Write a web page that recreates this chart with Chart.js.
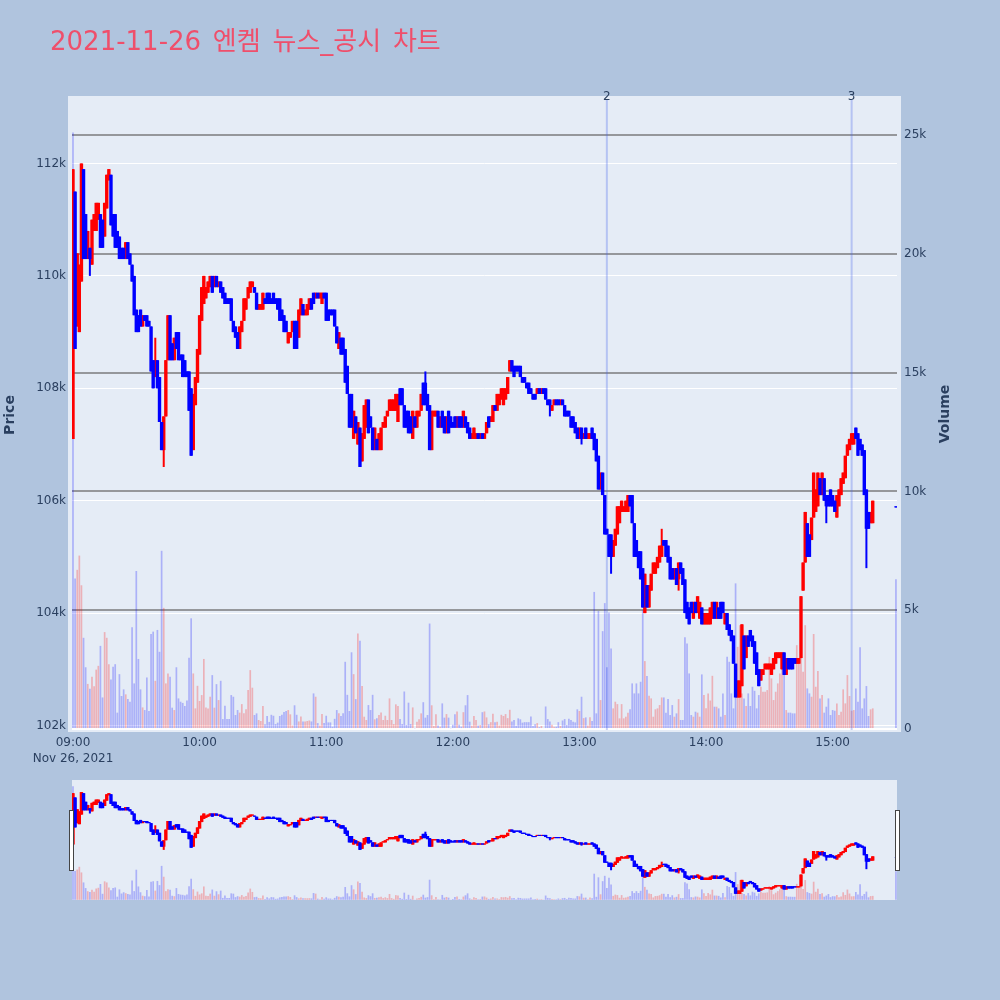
<!DOCTYPE html>
<html lang="ko">
<head>
<meta charset="utf-8">
<title>2021-11-26 엔켐 뉴스_공시 차트</title>
<script src="https://cdn.jsdelivr.net/npm/chart.js@4"></script>
<style>
html,body{margin:0;padding:0;background:#B0C4DE;width:1000px;height:1000px;overflow:hidden}
canvas{position:absolute;left:0;top:0}
</style>
</head>
<body>
<canvas id="main" width="1000" height="1000"></canvas>
<canvas id="slider" width="1000" height="1000"></canvas>
<script>
const chartTitle = '2021-11-26 엔켐 뉴스_공시 차트';
const dateLabel = 'Nov 26, 2021';
const startHour = 9;
// Prices are in units of 100 won. Index = minutes after 09:00.
const opens = [
1071,1115,1091,1090,1099,1119,1111,1103,1105,1102,
1108,1108,1110,1111,1110,1107,1112,1117,1118,1111,
1111,1108,1107,1105,1105,1103,1106,1104,1102,1100,
1094,1093,1094,1091,1093,1093,1092,1091,1085,1082,
1085,1082,1074,1069,1075,1085,1093,1088,1085,1090,
1090,1086,1086,1085,1083,1083,1080,1069,1077,1081,
1086,1092,1095,1096,1097,1098,1100,1098,1100,1098,
1099,1098,1097,1096,1096,1096,1092,1091,1090,1087,
1090,1092,1094,1096,1097,1098,1098,1097,1094,1094,
1094,1096,1097,1097,1096,1097,1096,1096,1096,1094,
1093,1092,1088,1089,1090,1092,1092,1089,1093,1095,
1093,1093,1094,1096,1097,1096,1097,1096,1095,1097,
1097,1094,1094,1094,1094,1091,1087,1089,1089,1087,
1084,1079,1079,1071,1075,1070,1073,1067,1071,1073,
1078,1075,1073,1069,1071,1069,1069,1073,1073,1075,
1076,1076,1076,1076,1074,1080,1080,1077,1076,1076,
1075,1071,1075,1073,1075,1076,1081,1081,1079,1077,
1069,1075,1075,1076,1073,1076,1075,1072,1076,1075,
1074,1075,1073,1075,1075,1073,1075,1074,1073,1071,
1071,1071,1072,1071,1072,1071,1072,1075,1074,1074,
1077,1076,1077,1078,1077,1078,1079,1083,1085,1084,
1084,1084,1084,1082,1082,1081,1081,1080,1079,1079,
1079,1080,1079,1080,1080,1078,1078,1076,1077,1078,
1078,1077,1078,1077,1076,1076,1075,1075,1074,1073,
1071,1073,1071,1073,1071,1071,1073,1072,1071,1068,
1062,1065,1061,1055,1054,1054,1050,1052,1054,1056,
1058,1058,1058,1058,1061,1061,1056,1053,1051,1051,
1048,1040,1045,1041,1044,1047,1047,1048,1049,1050,
1053,1053,1052,1050,1048,1046,1048,1046,1049,1048,
1046,1042,1041,1042,1039,1042,1040,1039,1041,1038,
1038,1038,1038,1039,1042,1039,1041,1042,1042,1038,
1040,1038,1037,1036,1031,1025,1025,1027,1036,1032,
1036,1037,1036,1035,1033,1030,1028,1029,1030,1030,
1030,1029,1030,1031,1032,1032,1030,1033,1029,1032,
1032,1032,1032,1031,1031,1032,1044,1049,1056,1054,
1053,1057,1058,1059,1064,1061,1064,1061,1061,1062,
1061,1060,1057,1059,1061,1063,1064,1068,1069,1070,
1070,1073,1072,1071,1070,1069,1062,1058,1056,1056,
null,null,null,null,null,null,null,null,null,null,1059];
const closes = [
1119,1087,1104,1102,1120,1103,1103,1108,1103,1110,
1111,1113,1113,1105,1105,1113,1118,1119,1109,1107,
1105,1105,1103,1103,1103,1106,1103,1102,1099,1093,
1090,1090,1091,1093,1092,1091,1091,1083,1080,1085,
1080,1074,1069,1075,1085,1093,1085,1085,1089,1087,
1085,1085,1082,1082,1082,1076,1068,1079,1082,1087,
1093,1098,1100,1098,1099,1100,1097,1100,1098,1099,
1097,1096,1095,1095,1095,1092,1090,1089,1087,1091,
1092,1096,1096,1098,1099,1099,1097,1094,1095,1095,
1097,1095,1095,1095,1095,1095,1095,1094,1092,1092,
1090,1090,1090,1090,1092,1087,1087,1094,1096,1093,
1094,1095,1096,1094,1095,1097,1096,1097,1097,1096,
1092,1092,1093,1093,1091,1088,1090,1086,1086,1081,
1079,1073,1073,1076,1072,1074,1066,1072,1077,1078,
1072,1073,1069,1073,1069,1072,1073,1074,1075,1076,
1078,1078,1078,1079,1079,1077,1077,1073,1073,1072,
1072,1076,1073,1076,1076,1079,1077,1077,1076,1069,
1076,1076,1076,1073,1075,1073,1072,1075,1072,1073,
1073,1073,1075,1073,1073,1076,1073,1072,1071,1072,
1073,1072,1071,1072,1071,1072,1074,1073,1075,1077,
1076,1079,1079,1080,1080,1080,1082,1085,1083,1082,
1083,1083,1082,1081,1081,1080,1079,1079,1078,1078,
1080,1079,1080,1079,1078,1077,1077,1077,1078,1077,
1077,1078,1077,1075,1075,1075,1073,1073,1072,1071,
1073,1071,1072,1071,1072,1072,1071,1069,1067,1062,
1065,1061,1054,1054,1050,1050,1053,1055,1059,1059,
1060,1059,1060,1061,1059,1056,1050,1050,1048,1046,
1041,1047,1041,1045,1047,1049,1049,1050,1052,1052,
1052,1050,1049,1046,1046,1048,1045,1049,1047,1045,
1040,1039,1038,1040,1042,1040,1043,1042,1038,1040,
1040,1040,1041,1042,1039,1042,1039,1039,1040,1040,
1037,1036,1035,1031,1025,1028,1028,1038,1030,1036,
1034,1035,1034,1031,1029,1027,1030,1030,1031,1031,
1031,1031,1032,1033,1033,1033,1033,1029,1032,1030,
1030,1030,1031,1032,1032,1043,1049,1058,1050,1050,
1057,1065,1062,1065,1061,1065,1060,1059,1059,1059,
1059,1058,1061,1062,1064,1065,1068,1070,1071,1072,
1072,1071,1068,1069,1068,1061,1055,1055,1058,1060,
null,null,null,null,null,null,null,null,null,null,1058.8];
// Wick tips that stick out beyond the candle body: minute -> price.
const wickHighs = {39:1089,167:1083,279:1055};
const wickLows = {8:1100,43:1066,226:1075,241:1070,255:1047,287:1044,357:1056,376:1048};
// Volume in thousands of shares.
const volumes = [
25.1,6.34,6.7,7.3,6.05,3.84,2.6,1.9,1.7,2.2,
1.8,2.5,2.66,3.5,1.33,4.08,3.84,2.73,2.09,2.62,
2.73,.69,2.31,1.39,1.67,1.46,1.26,1.15,4.28,1.92,
6.65,2.95,1.67,.91,.8,2.17,.76,4.0,4.1,2.03,
4.17,3.25,7.5,5.1,1.92,2.34,2.2,.9,.8,2.6,
1.29,1.15,1.1,.97,1.2,3.0,4.66,2.34,.87,1.82,
1.18,1.43,2.95,.91,.86,1.36,2.27,.9,1.89,1.22,
2.03,.42,.98,.42,.42,1.43,1.36,.59,.8,.69,
1.05,.66,.83,1.64,2.48,1.74,.59,.66,.38,.34,
.97,.2,.55,.3,.6,.56,.21,.27,.55,.6,
.72,.76,.8,.62,.15,1.0,.6,.32,.53,.32,
.32,.34,.36,.32,1.5,1.36,.25,.15,.63,.25,
.56,.28,.28,.1,.43,.8,.66,.55,.66,2.83,
1.44,.76,3.23,2.31,1.26,4.02,3.72,1.81,.52,.38,
1.01,.8,1.44,.41,.45,.59,.7,.38,.56,.38,
1.29,.38,.21,1.04,.97,.42,.21,1.58,.17,1.11,
.21,.91,.03,.31,.41,.66,1.13,.48,.59,4.44,
1.0,.13,.62,.15,.1,1.08,.48,.63,.48,.03,
.18,.62,.74,.18,.1,.71,1.0,1.43,.31,.14,
.55,.38,.15,.17,.71,.74,.49,.2,.29,.64,
.29,.31,.15,.6,.55,.63,.46,.81,.32,.38,
.14,.45,.41,.27,.29,.29,.29,.53,.13,.2,
.25,.08,.13,.04,.95,.42,.32,.18,.1,.1,
.29,.13,.36,.42,.17,.43,.38,.31,.28,.83,
.76,1.36,.46,.49,.15,.5,.34,5.77,.66,4.97,
1.22,4.12,5.3,2.6,4.9,3.39,.87,1.15,1.05,.45,
1.05,.45,.52,.69,.83,1.92,1.5,1.92,1.5,1.99,
5.0,2.86,2.23,1.4,1.29,.52,.83,.87,1.01,1.33,
1.33,.69,1.26,.59,1.01,.52,.66,1.26,.38,.38,
3.86,3.6,2.34,.59,.52,.73,.69,.52,2.3,1.43,
.87,1.5,1.2,2.24,.94,.94,.87,.52,1.5,.59,
3.04,2.83,1.5,.87,6.13,3.46,4.37,1.5,1.29,.97,
1.5,.97,1.78,1.61,.87,1.43,1.78,1.57,1.57,1.64,
3.04,2.13,1.22,1.57,1.92,2.34,2.83,2.27,.8,.69,
.69,.66,.66,3.53,2.97,3.53,2.41,4.37,1.71,1.5,
1.36,4.0,1.78,2.44,1.29,1.43,.69,.94,1.29,.59,
.8,.77,1.08,.59,.73,1.67,1.08,2.27,1.39,.77,
.8,1.71,1.15,3.44,.87,1.29,1.81,.55,.83,.87,
null,null,null,null,null,null,null,null,null,null,6.3];
// Volume bars whose colour differs from their candle's direction.
const blueVolumeMinutes = [0];
const eventMinutes = [253, 369];
const eventLabels = ['2', '3'];
const priceRange = [1019.2, 1131.3];
const volumeRange = [-0.04, 26.47];
const minuteRange = [-0.47, 390.5];

const RED = '#FF0000', BLUE = '#0000FF';
const VRED = 'rgba(255,0,0,0.25)', VBLUE = 'rgba(0,0,255,0.25)';
const INK = '#2a3f5f';
const FONT = '"DejaVu Sans","Noto Sans CJK KR",sans-serif';

const rows = opens.map((o, i) => ({i, o, c: closes[i], v: volumes[i]})).filter(r => r.o !== null);
const isUp = r => r.c >= r.o;
const high = r => wickHighs[r.i] ?? Math.max(r.o, r.c);
const low = r => wickLows[r.i] ?? Math.min(r.o, r.c);
const common = {type: 'bar', grouped: false, inflateAmount: 0, borderWidth: 0};

function markDatasets(withEvents, yP, yV) {
  const sets = [{
    ...common, order: 9, yAxisID: yV,
    barThickness: 1.7,
    backgroundColor: rows.map(r => isUp(r) && !blueVolumeMinutes.includes(r.i) ? VRED : VBLUE),
    data: rows.map(r => ({x: r.i, y: [0, r.v]}))
  }];
  if (withEvents) sets.push({
    ...common, order: 8, yAxisID: yV, barThickness: 2,
    backgroundColor: 'rgba(70,100,235,0.3)',
    data: eventMinutes.map(m => ({x: m, y: volumeRange}))
  });
  [[true, RED, 4], [false, BLUE, 2]].forEach(([up, color, ord]) => {
    const part = rows.filter(r => isUp(r) === up);
    sets.push({...common, order: ord + 1, yAxisID: yP, barThickness: 2,
      backgroundColor: color, data: part.map(r => ({x: r.i, y: [low(r), high(r)]}))});
    sets.push({...common, order: ord, yAxisID: yP, barThickness: 3.4,
      backgroundColor: color, data: part.map(r => ({x: r.i, y: [Math.min(r.o, r.c), Math.max(r.o, r.c)]}))});
  });
  return sets;
}

function timeLabel(m) {
  const h = startHour + Math.floor(m / 60);
  const mm = m % 60;
  return (h < 10 ? '0' : '') + h + ':' + (mm < 10 ? '0' : '') + mm;
}

const panel = (pad) => ({
  id: 'panel',
  beforeDraw(chart) {
    const {ctx, chartArea: a} = chart;
    ctx.save();
    ctx.fillStyle = '#E5ECF6';
    ctx.fillRect(a.left - pad[0], a.top - pad[1], a.right - a.left + 2 * pad[0], a.bottom - a.top + pad[1] + pad[2]);
    ctx.restore();
  }
});

new Chart(document.getElementById('main'), {
  data: {datasets: markDatasets(true, 'price', 'volume')},
  options: {
    responsive: false, animation: false, events: [],
    plugins: {
      legend: {display: false}, tooltip: {enabled: false},
      title: {display: true, text: chartTitle, align: 'start', color: '#EF4F6B',
        font: {family: FONT, size: 26, weight: 'normal', lineHeight: 1.2},
        padding: {top: 24.4, bottom: 44.4}}
    },
    scales: {
      x: {type: 'linear', offset: false, min: minuteRange[0], max: minuteRange[1],
        grid: {display: false, drawTicks: false}, border: {display: false},
        afterFit(s) { s.height = 270; },
        ticks: {stepSize: 60, includeBounds: false, autoSkip: false, maxRotation: 0, padding: 5, color: INK,
          font: {family: FONT, size: 12, lineHeight: 1.33},
          callback: v => v === 0 ? [timeLabel(v), dateLabel] : timeLabel(v)}},
      price: {type: 'linear', position: 'left', min: priceRange[0], max: priceRange[1],
        afterFit(s) { s.width = 72; },
        border: {display: false},
        grid: {color: '#FFFFFF', lineWidth: 1, drawTicks: false},
        title: {display: true, text: 'Price', color: INK, padding: {top: 2, bottom: 0},
          font: {family: FONT, size: 14, weight: 'bold', lineHeight: 1.2}},
        ticks: {stepSize: 20, includeBounds: false, padding: 6, color: INK,
          font: {family: FONT, size: 12},
          callback: v => (v / 10) + 'k'}},
      volume: {type: 'linear', position: 'right', min: volumeRange[0], max: volumeRange[1],
        afterFit(s) { s.width = 103; },
        border: {display: false},
        grid: {drawTicks: false, lineWidth: 2,
          color: c => c.tick && c.tick.value === 0 ? '#FFFFFF' : 'rgba(95,95,95,0.6)'},
        ticks: {stepSize: 5, includeBounds: false, padding: 7, color: INK,
          font: {family: FONT, size: 12},
          callback: v => v === 0 ? '0' : v + 'k'}}
    }
  },
  plugins: [panel([4, 4, 2]), {
    id: 'furniture',
    beforeDraw(chart) {
      const block = chart.titleBlock;
      if (!block || block._spaced) return;
      block._spaced = true;
      block.left = 50;
      const drawTitle = block.draw;
      block.draw = function () {
        chart.ctx.save();
        chart.ctx.wordSpacing = '3.5px';
        drawTitle.call(this);
        chart.ctx.restore();
      };
      block.top += 3;
      block.bottom += 3;
    },
    afterDraw(chart) {
      const {ctx, scales} = chart;
      ctx.save();
      ctx.fillStyle = INK;
      ctx.font = '12px ' + FONT;
      ctx.textAlign = 'center';
      ctx.textBaseline = 'middle';
      eventMinutes.forEach((m, i) => ctx.fillText(eventLabels[i], scales.x.getPixelForValue(m), 97));
      ctx.translate(945, 414);
      ctx.rotate(-Math.PI / 2);
      ctx.font = 'bold 14px ' + FONT;
      ctx.fillText('Volume', 0, 0);
      ctx.restore();
    }
  }]
});

new Chart(document.getElementById('slider'), {
  data: {datasets: markDatasets(false, 'sp', 'sv')},
  options: {
    responsive: false, animation: false, events: [],
    layout: {padding: {left: 72, right: 103, top: 780, bottom: 100}},
    plugins: {legend: {display: false}, tooltip: {enabled: false}},
    scales: {
      x: {type: 'linear', offset: false, min: minuteRange[0], max: minuteRange[1], display: false},
      sp: {type: 'linear', min: priceRange[0], max: priceRange[1], display: false},
      sv: {type: 'linear', min: volumeRange[0], max: volumeRange[1], display: false}
    }
  },
  plugins: [panel([0, 0, 0]), {
    id: 'handles',
    afterDraw(chart) {
      const {ctx, chartArea: a} = chart;
      ctx.save();
      ctx.fillStyle = '#FFFFFF';
      ctx.strokeStyle = '#444444';
      ctx.lineWidth = 1;
      [a.left - 2.5, a.right - 1.5].forEach(x => {
        ctx.fillRect(x, a.top + 30.5, 4, 60);
        ctx.strokeRect(x, a.top + 30.5, 4, 60);
      });
      ctx.restore();
    }
  }]
});
</script>
</body>
</html>
